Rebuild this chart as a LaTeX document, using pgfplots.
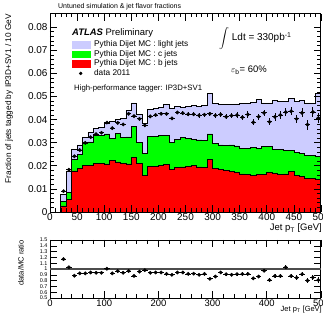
\documentclass[border=0pt]{standalone}
\usepackage{fontspec}
\setmainfont{Liberation Sans}
\usepackage{pgfplots}
\pgfplotsset{compat=1.18}
\usepackage{pgfplotstable}
\definecolor{lightj}{RGB}{204,204,255}
\definecolor{cj}{RGB}{0,255,0}
\definecolor{bj}{RGB}{255,0,0}

% MC stack tops: x = lower bin edge, b = b, c = b+c, t = b+c+light
\pgfplotstableread{
x b c t
20 0.0026 0.0045 0.0077
30 0.0056 0.0083 0.0178
40 0.0178 0.0228 0.0272
50 0.0190 0.0250 0.0290
60 0.0200 0.0300 0.0323
70 0.0202 0.0303 0.0345
80 0.0212 0.0330 0.0360
90 0.0210 0.0332 0.0367
100 0.0208 0.0338 0.0385
110 0.0222 0.0318 0.0392
120 0.0217 0.0340 0.0400
130 0.0210 0.0322 0.0405
140 0.0208 0.0325 0.0440
150 0.0238 0.0370 0.0472
160 0.0210 0.0300 0.0422
170 0.0158 0.0255 0.0383
180 0.0198 0.0328 0.0443
190 0.0198 0.0328 0.0447
200 0.0202 0.0330 0.0452
210 0.0207 0.0332 0.0465
220 0.0185 0.0300 0.0450
230 0.0192 0.0315 0.0458
240 0.0195 0.0322 0.0455
250 0.0198 0.0318 0.0458
260 0.0200 0.0315 0.0460
270 0.0195 0.0312 0.0458
280 0.0192 0.0310 0.0460
290 0.0228 0.0338 0.0512
300 0.0190 0.0295 0.0470
310 0.0183 0.0290 0.0465
320 0.0180 0.0288 0.0465
330 0.0175 0.0290 0.0465
340 0.0172 0.0286 0.0468
350 0.0165 0.0277 0.0470
360 0.0162 0.0276 0.0470
370 0.0160 0.0278 0.0475
380 0.0162 0.0276 0.0487
390 0.0164 0.0282 0.0472
400 0.0170 0.0285 0.0472
410 0.0167 0.0272 0.0482
420 0.0163 0.0270 0.0480
430 0.0165 0.0268 0.0478
440 0.0175 0.0265 0.0490
450 0.0157 0.0258 0.0478
460 0.0155 0.0255 0.0482
470 0.0147 0.0246 0.0472
480 0.0145 0.0244 0.0470
490 0.0142 0.0240 0.0515
500 0.0142 0.0240 0.0515
}\mc

% data 2011: bin centre, value, error
\pgfplotstableread{
x y ey
25 0.0090 0.0004
35 0.0183 0.0004
45 0.0241 0.0004
55 0.0268 0.0004
65 0.0299 0.0004
75 0.0324 0.0004
85 0.0337 0.0004
95 0.0343 0.0004
105 0.0387 0.0004
115 0.0363 0.0004
125 0.0386 0.0005
135 0.0379 0.0005
145 0.0425 0.0005
155 0.0415 0.0005
165 0.0403 0.0005
175 0.0375 0.0005
185 0.0414 0.0006
195 0.0420 0.0006
205 0.0425 0.0006
215 0.0425 0.0007
225 0.0405 0.0007
235 0.0431 0.0007
245 0.0428 0.0008
255 0.0423 0.0008
265 0.0423 0.0008
275 0.0418 0.0009
285 0.0421 0.0009
295 0.0425 0.0009
305 0.0418 0.0010
315 0.0422 0.0010
325 0.0412 0.0011
335 0.0417 0.0011
345 0.0419 0.0012
355 0.0410 0.0012
365 0.0422 0.0013
375 0.0388 0.0013
385 0.0412 0.0014
395 0.0429 0.0014
405 0.0390 0.0015
415 0.0412 0.0016
425 0.0420 0.0016
435 0.0432 0.0017
445 0.0436 0.0018
455 0.0403 0.0019
465 0.0429 0.0019
475 0.0378 0.0022
485 0.0433 0.0021
495 0.0407 0.0022
}\dat

% data/MC ratio
\pgfplotstableread{
x r er
25 1.17 0.012
35 1.03 0.010
45 0.885 0.010
55 0.925 0.010
65 0.925 0.010
75 0.94 0.010
85 0.935 0.010
95 0.935 0.010
105 1.005 0.010
115 0.925 0.010
125 0.965 0.012
135 0.935 0.012
145 0.965 0.012
155 0.88 0.012
165 0.955 0.012
175 0.98 0.012
185 0.935 0.014
195 0.94 0.014
205 0.94 0.014
215 0.915 0.015
225 0.90 0.015
235 0.94 0.015
245 0.94 0.017
255 0.915 0.017
265 0.92 0.017
275 0.90 0.019
285 0.915 0.019
295 0.83 0.019
305 0.87 0.021
315 0.94 0.021
325 0.91 0.023
335 0.90 0.023
345 0.91 0.025
355 0.915 0.025
365 0.915 0.027
375 0.84 0.027
385 0.87 0.029
395 0.97 0.029
405 0.81 0.031
415 0.88 0.033
425 0.88 0.033
435 1.03 0.035
445 0.88 0.037
455 0.85 0.039
465 0.91 0.039
475 0.80 0.045
485 0.855 0.043
495 0.81 0.045
}\rat

\begin{document}
\begin{tikzpicture}
\useasboundingbox (0,0) rectangle (323bp,325bp);
\begin{axis}[
  scale only axis, width=271bp, height=198bp,
  at={(50bp,113bp)}, anchor=south west,
  xmin=0, xmax=500, ymin=0, ymax=0.0857,
  xtick={0,50,...,500}, minor x tick num=4,
  ytick={0,0.01,0.02,0.03,0.04,0.05,0.06,0.07,0.08}, minor y tick num=4,
  scaled y ticks=false,
  yticklabel style={/pgf/number format/fixed, /pgf/number format/precision=2, xshift=1bp},
  xticklabel style={yshift=1.5bp},
  /pgf/number format/assume math mode=true,
  tick align=inside, major tick length=7bp, minor tick length=3.5bp,
  every tick/.style={black, line width=0.6pt},
  axis line style={line width=1pt},
  tick label style={font=\fontsize{10}{10}\selectfont},
  axis on top,
  legend style={draw=none, fill=none, at={(0.081,0.869)}, anchor=north west,
    inner sep=0pt, outer sep=0pt, font=\fontsize{8.3}{9}\selectfont,
    row sep=0.3bp, column sep=3bp,
    nodes={inner sep=0.8bp, text height=6bp, text depth=1.7bp}},
  legend cell align=left,
]
\addplot[forget plot, const plot mark left, fill=lightj, draw=black, line width=0.7bp] table[x=x,y=t]{\mc} \closedcycle;
\addplot[forget plot, const plot mark left, fill=cj, draw=black, line width=0.7bp] table[x=x,y=c]{\mc} \closedcycle;
\addplot[forget plot, const plot mark left, fill=bj, draw=black, line width=0.7bp] table[x=x,y=b]{\mc} \closedcycle;
\addplot[forget plot, only marks, mark=*, mark size=1.7bp, black,
  error bars/.cd, x dir=both, x fixed=5, y dir=both, y explicit, error mark=none,
  error bar style={line width=0.8bp, black}]
  table[x=x, y=y, y error=ey]{\dat};
\addlegendimage{legend image code/.code={\fill[lightj] (0bp,-3.3bp) rectangle (18bp,3.3bp);}}
\addlegendentry{Pythia Dijet MC : light jets}
\addlegendimage{legend image code/.code={\fill[cj] (0bp,-3.3bp) rectangle (18bp,3.3bp);}}
\addlegendentry{Pythia Dijet MC : c jets}
\addlegendimage{legend image code/.code={\fill[bj] (0bp,-3.3bp) rectangle (18bp,3.3bp);}}
\addlegendentry{Pythia Dijet MC : b jets}
\addlegendimage{only marks, mark=*, mark size=1.5bp, black}
\addlegendentry{data 2011}
\end{axis}

\begin{axis}[
  scale only axis, width=271bp, height=58bp,
  at={(50bp,27bp)}, anchor=south west,
  xmin=0, xmax=500, ymin=0.5, ymax=1.5,
  xtick={0,100,...,500}, minor x tick num=4,
  ytick={0.5,0.6,0.7,0.8,0.9,1.0,1.1,1.2,1.3,1.4,1.5},
  yticklabels={0.5,0.6,0.7,0.8,0.9,1,1.1,1.2,1.3,1.4,1.5},
  yticklabel style={font=\fontsize{5.5}{5.5}\selectfont, xshift=1bp},
  xticklabel style={font=\fontsize{9.5}{9.5}\selectfont, yshift=1.5bp},
  /pgf/number format/assume math mode=true,
  tick align=inside, major tick length=7bp, minor tick length=3.5bp,
  every tick/.style={black, line width=0.6pt},
  axis line style={line width=1pt},
]
\addplot[gray!60!black, line width=1.3bp] coordinates {(0,1) (500,1)};
\addplot[only marks, mark=*, mark size=1.7bp, black,
  error bars/.cd, x dir=both, x fixed=5, y dir=both, y explicit, error mark=none,
  error bar style={line width=0.8bp, black}]
  table[x=x, y=r, y error=er]{\rat};
\end{axis}

% texts
\node[anchor=base west, font=\fontsize{7}{8}\selectfont, inner sep=0pt] at (58bp,316bp) {Untuned simulation \& jet flavor fractions};
\node[anchor=base west, font=\fontsize{9.5}{10}\selectfont, inner sep=0pt] at (72bp,289bp) {\textbf{\textit{ATLAS}} Preliminary};
\node[anchor=base west, font=\fontsize{7.8}{9}\selectfont, inner sep=0pt] at (74bp,234bp) {High-performance tagger: IP3D+SV1};
\node[anchor=base west, font=\fontsize{10}{10}\selectfont, inner sep=0pt] at (219bp,284bp) {\raisebox{-1bp}{\fontsize{13}{13}\selectfont$\displaystyle\int$} Ldt = 330pb\textsuperscript{-1}};
\node[anchor=base west, font=\fontsize{9.5}{10}\selectfont, inner sep=0pt] at (231bp,252bp) {$\varepsilon$\textsubscript{b}= 60\%};
\node[rotate=90, anchor=north east, font=\fontsize{8.3}{9}\selectfont, inner sep=0pt] at (5bp,311bp) {Fraction of jets tagged by IP3D+SV1 / 10 GeV};
\node[rotate=90, anchor=north east, font=\fontsize{7.6}{9}\selectfont, inner sep=0pt] at (18bp,85bp) {data/MC ratio};
\node[anchor=base east, font=\fontsize{9.5}{10}\selectfont, inner sep=0pt] at (322bp,94bp) {Jet p\textsubscript{T} [GeV]};
\node[anchor=base east, font=\fontsize{7.5}{9}\selectfont, inner sep=0pt] at (322bp,14bp) {Jet p\textsubscript{T} [GeV]};
\end{tikzpicture}
\end{document}
